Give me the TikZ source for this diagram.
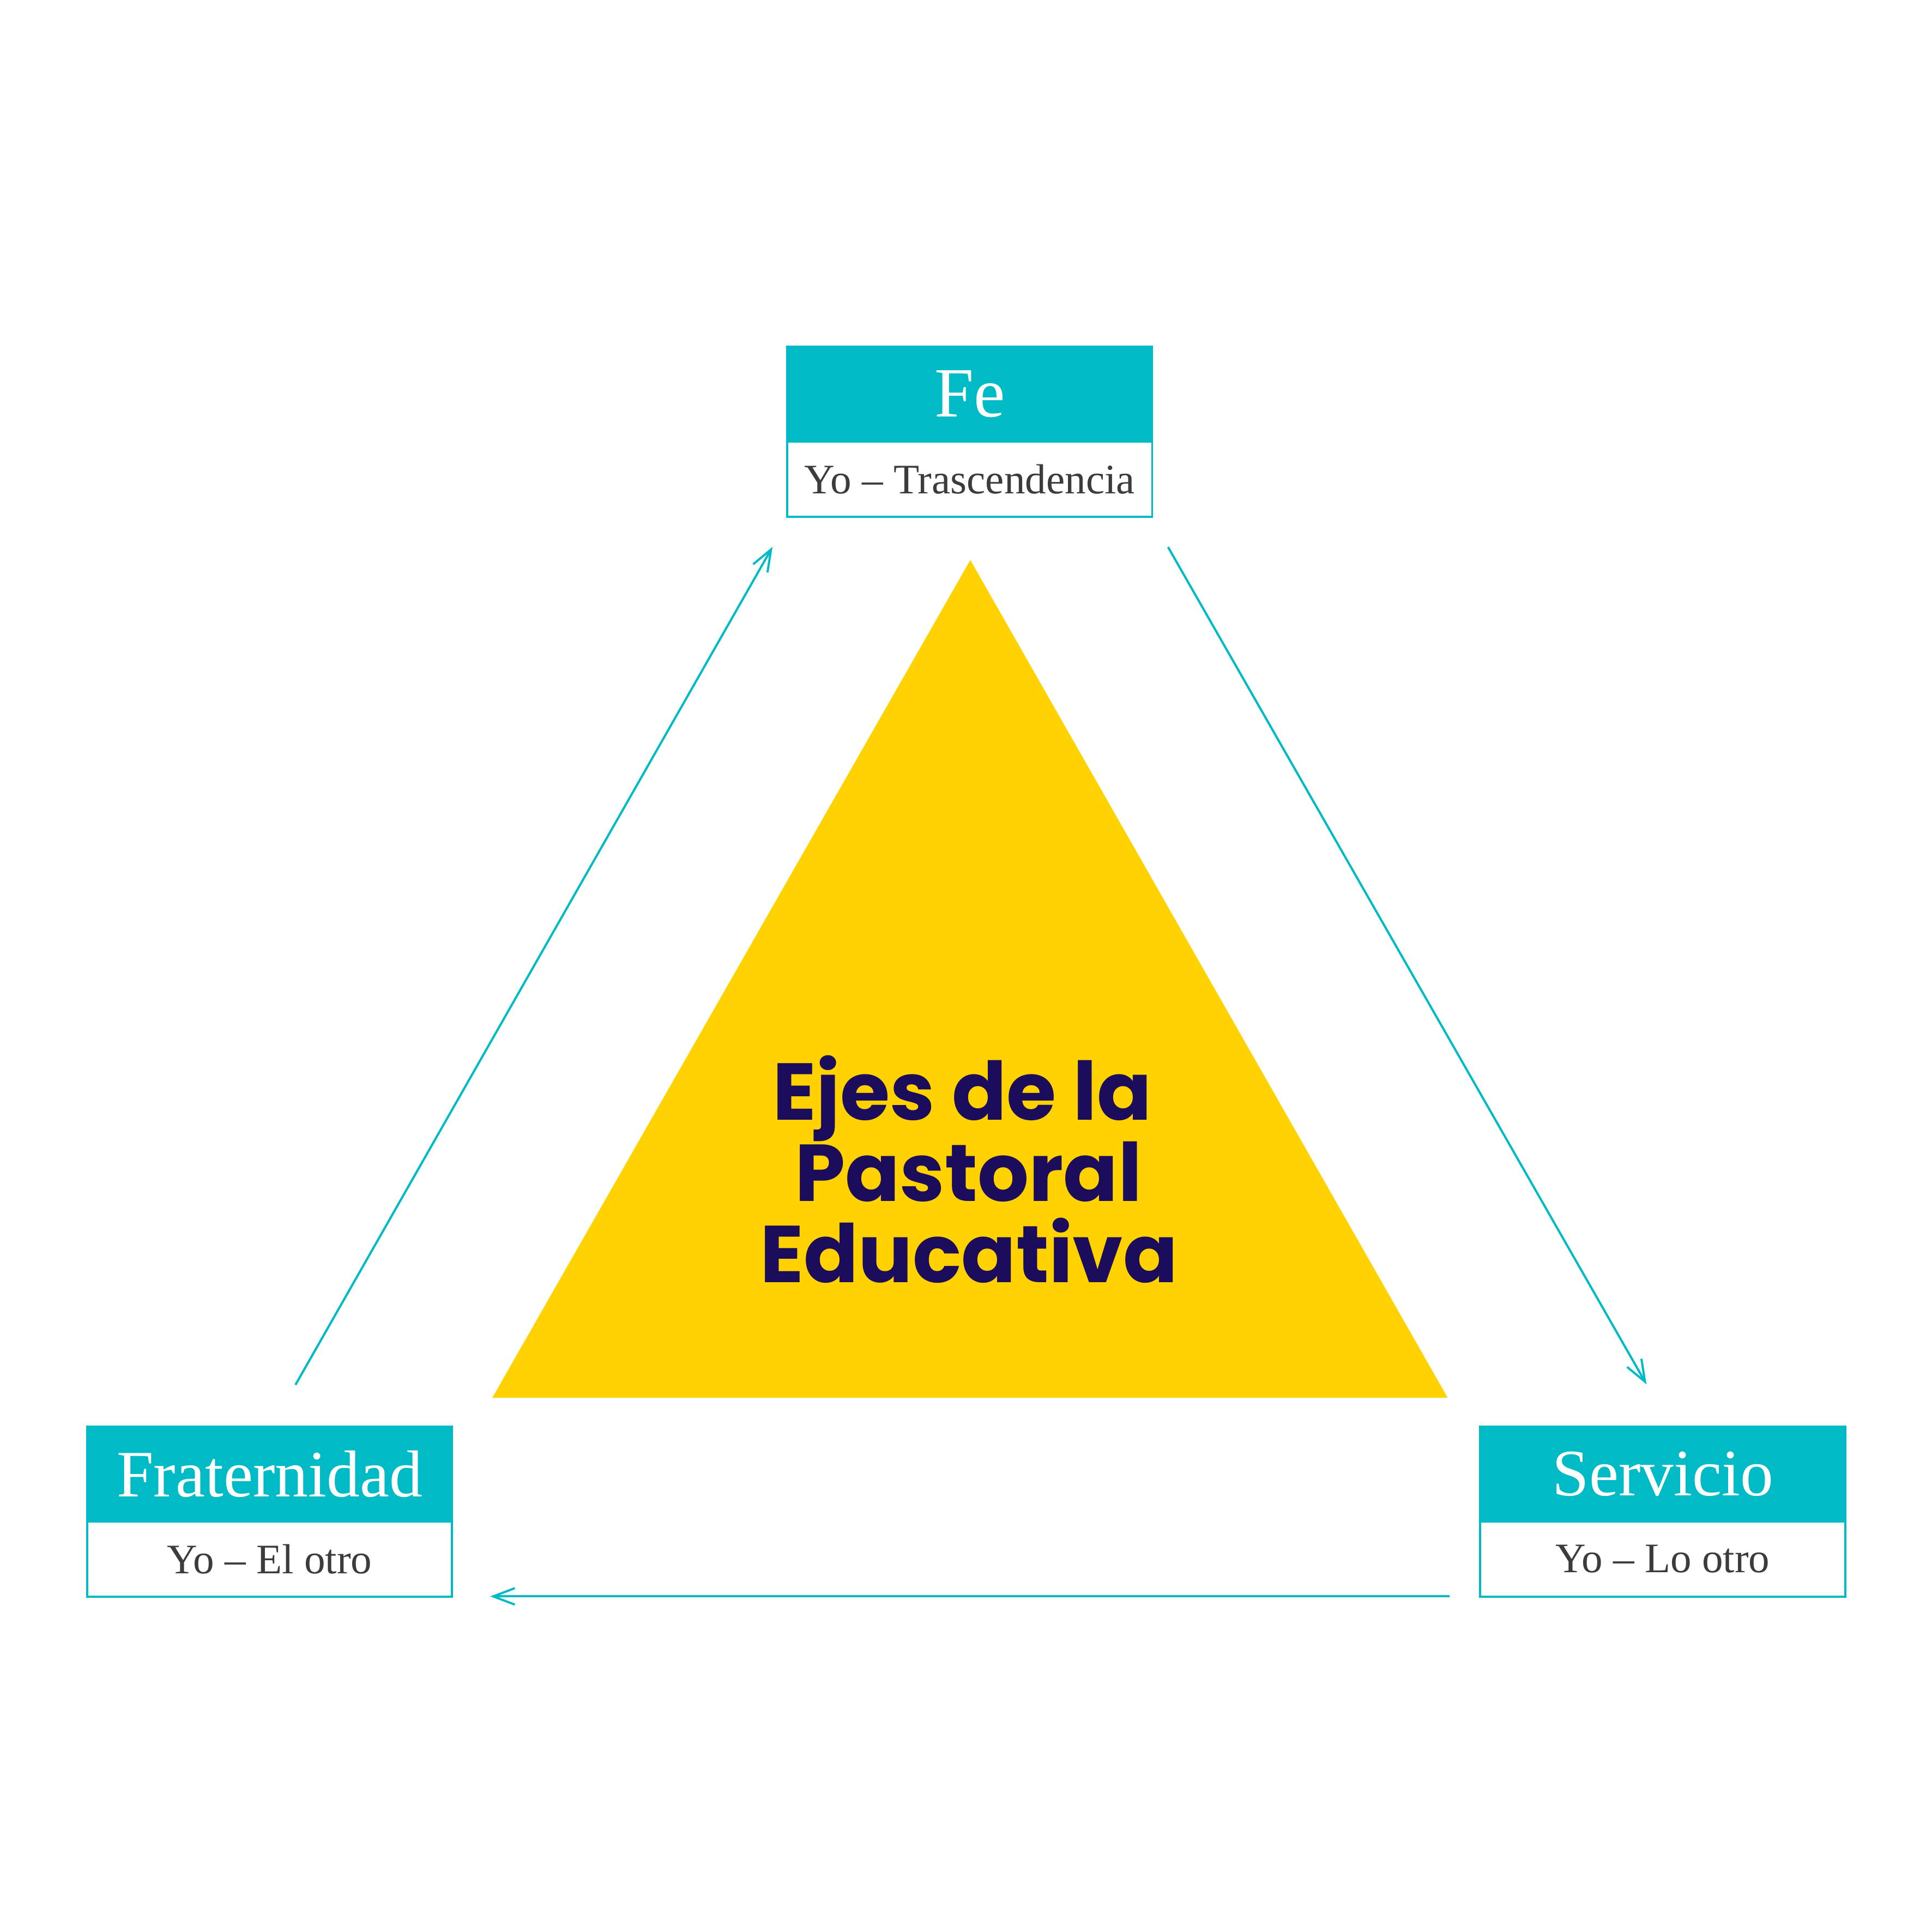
\documentclass[tikz,border=0pt]{standalone}
\usepackage{fontspec}
\setmainfont{Liberation Serif}
\newfontfamily\ejesfont{Poppins}
\usetikzlibrary{arrows.meta,positioning}
\definecolor{teal}{RGB}{0,186,198}
\definecolor{ejesyellow}{RGB}{255,210,0}
\definecolor{ejesnavy}{RGB}{28,12,92}
\definecolor{subgray}{RGB}{60,60,60}
\begin{document}
\begin{tikzpicture}[x=0.01cm,y=-0.01cm,
  hdr/.style={rectangle,fill=teal,draw=teal,line width=0.5pt,minimum width=2.96cm,minimum height=0.77cm,inner sep=0pt,outer sep=0pt,text=white,font=\fontsize{15.3}{18}\selectfont},
  subbox/.style={rectangle,fill=white,draw=teal,line width=0.5pt,minimum width=2.96cm,minimum height=0.61cm,inner sep=0pt,outer sep=0pt,text=subgray,font=\fontsize{9.7}{12}\selectfont},
  ejes/.style={anchor=base,text=ejesnavy,inner sep=0pt,font=\ejesfont\bfseries\fontsize{18.6}{19}\selectfont},
  conn/.style={draw=teal,line width=0.5pt,-{Straight Barb[length=5pt,width=3.8pt]}}
]
\useasboundingbox (0,0) rectangle (1568,1568);
% central triangle
\fill[ejesyellow] (787.5,454.5) -- (1175,1134.5) -- (399.5,1134.5) -- cycle;
\node[ejes] (ejes1) at (781,908.8) {Ejes de la};
\node[ejes] (ejes2) at (786,974.8) {Pastoral};
\node[ejes] (ejes3) at (786.5,1040.7) {Educativa};
% boxes
\node[hdr,font=\fontsize{16.3}{19}\selectfont] (fe) at (787,319.7) {Fe};
\node[subbox,below=0pt of fe] (feS) {Yo -- Trascendencia};
\node[hdr] (frat) at (218.8,1196.2) {Fraternidad};
\node[subbox,below=0pt of frat] (fratS) {Yo -- El otro};
\node[hdr] (serv) at (1349.5,1196.2) {Servicio};
\node[subbox,below=0pt of serv] (servS) {Yo -- Lo otro};
% connector ends
\coordinate (l1) at (239.8,1123.9);
\coordinate (l2) at (627,443.8);
\coordinate (r1) at (948,444);
\coordinate (r2) at (1336.3,1123.5);
\coordinate (b1) at (1176.5,1295.6);
\coordinate (b2) at (397.8,1295.6);
\draw[conn] (l1) -- (l2);
\draw[conn] (r1) -- (r2);
\draw[conn] (b1) -- (b2);
\end{tikzpicture}
\end{document}
